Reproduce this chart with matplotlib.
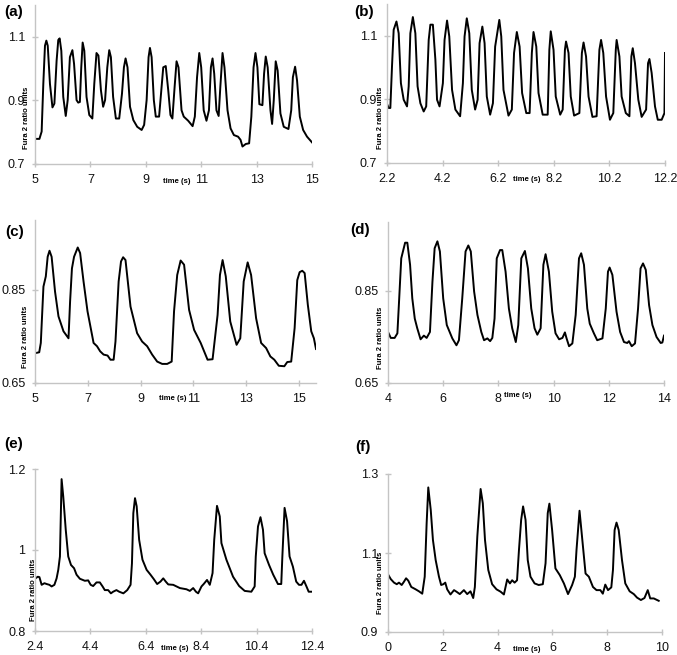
import matplotlib.pyplot as plt
import matplotlib

# Arial-like font for everything
matplotlib.rcParams['font.family'] = ['Liberation Sans', 'DejaVu Sans']

# ---- data: time (s) and Fura 2 ratio ----
t_a = [5.00, 5.16, 5.24, 5.30, 5.36, 5.41, 5.46, 5.54, 5.63, 5.70, 5.78, 5.84, 5.89, 5.95, 6.02,
       6.11, 6.18, 6.26, 6.35, 6.41, 6.50, 6.56, 6.62, 6.67, 6.72, 6.78, 6.86, 6.96, 7.07, 7.14,
       7.22, 7.29, 7.38, 7.46, 7.53, 7.61, 7.68, 7.74, 7.82, 7.92, 8.04, 8.14, 8.21, 8.27, 8.34,
       8.43, 8.55, 8.69, 8.85, 8.94, 9.03, 9.10, 9.15, 9.21, 9.29, 9.36, 9.48, 9.56, 9.63, 9.72,
       9.81, 9.89, 9.96, 10.04, 10.11, 10.18, 10.29, 10.37, 10.53, 10.69, 10.77, 10.85, 10.93, 11.00,
       11.09, 11.19, 11.28, 11.35, 11.41, 11.47, 11.55, 11.63, 11.69, 11.77, 11.84, 11.95, 12.06, 12.18,
       12.33, 12.42, 12.49, 12.61, 12.73, 12.81, 12.89, 12.96, 13.03, 13.10, 13.21, 13.27, 13.33, 13.40,
       13.50, 13.56, 13.62, 13.69, 13.76, 13.86, 13.98, 14.15, 14.25, 14.31, 14.39, 14.46, 14.56, 14.68,
       14.82, 15.00]
f_a = [0.779, 0.779, 0.802, 0.952, 1.072, 1.088, 1.072, 0.952, 0.878, 0.890, 1.025, 1.090, 1.095, 1.056, 0.911,
       0.851, 0.901, 1.036, 1.058, 1.015, 0.901, 0.893, 0.895, 1.004, 1.082, 1.056, 0.911, 0.854, 0.843, 0.952,
       1.049, 1.041, 0.932, 0.880, 0.901, 1.004, 1.058, 1.036, 0.911, 0.843, 0.843, 0.921, 1.004, 1.032, 1.004,
       0.880, 0.838, 0.817, 0.807, 0.823, 0.901, 1.036, 1.065, 1.036, 0.901, 0.849, 0.849, 0.932, 1.004, 1.008,
       0.932, 0.854, 0.843, 0.942, 1.023, 1.004, 0.869, 0.849, 0.836, 0.819, 0.849, 0.973, 1.049, 1.004,
       0.869, 0.836, 0.869, 1.004, 1.032, 0.984, 0.869, 0.851, 0.942, 1.049, 1.004, 0.869, 0.812, 0.791,
       0.786, 0.776, 0.755, 0.763, 0.765, 0.849, 1.004, 1.049, 1.004, 0.888, 0.885, 0.984, 1.038, 1.004,
       0.869, 0.826, 0.901, 1.023, 0.994, 0.859, 0.817, 0.810, 0.869, 0.973, 1.006, 0.963, 0.849, 0.807,
       0.786, 0.768]

t_b = [2.20, 2.26, 2.32, 2.38, 2.44, 2.54, 2.62, 2.70, 2.80, 2.92, 2.98, 3.04, 3.13, 3.22, 3.30,
       3.40, 3.52, 3.61, 3.70, 3.76, 3.85, 3.94, 4.00, 4.09, 4.21, 4.27, 4.36, 4.44, 4.54, 4.66,
       4.83, 4.93, 4.99, 5.07, 5.16, 5.25, 5.37, 5.46, 5.53, 5.63, 5.71, 5.79, 5.91, 6.01, 6.09,
       6.24, 6.31, 6.39, 6.57, 6.69, 6.77, 6.87, 6.97, 7.06, 7.21, 7.33, 7.41, 7.47, 7.57, 7.65,
       7.80, 7.98, 8.04, 8.09, 8.19, 8.27, 8.43, 8.52, 8.60, 8.64, 8.73, 8.81, 8.93, 9.12, 9.21,
       9.27, 9.36, 9.45, 9.59, 9.74, 9.84, 9.90, 9.98, 10.08, 10.22, 10.34, 10.43, 10.46, 10.56, 10.64,
       10.79, 10.92, 10.99, 11.04, 11.12, 11.24, 11.36, 11.52, 11.59, 11.64, 11.72, 11.84, 11.94, 12.08,
       12.18, 12.20]
f_b = [0.886, 0.873, 0.873, 1.004, 1.119, 1.145, 1.108, 0.951, 0.899, 0.878, 0.941, 1.108, 1.159, 1.108, 0.941,
       0.888, 0.862, 0.878, 1.087, 1.135, 1.135, 1.025, 0.899, 0.878, 0.951, 1.087, 1.148, 1.098, 0.930, 0.868,
       0.847, 0.951, 1.098, 1.155, 1.108, 0.930, 0.868, 0.899, 1.077, 1.129, 1.077, 0.909, 0.852, 0.888, 1.066,
       1.150, 1.098, 0.930, 0.849, 0.868, 1.046, 1.112, 1.066, 0.920, 0.857, 0.857, 1.046, 1.112, 1.066, 0.920,
       0.852, 0.852, 1.056, 1.114, 1.056, 0.909, 0.852, 0.868, 1.056, 1.082, 1.046, 0.909, 0.849, 0.857, 1.046,
       1.079, 1.035, 0.909, 0.845, 0.847, 1.056, 1.087, 1.046, 0.909, 0.836, 0.857, 1.056, 1.087, 1.035, 0.909,
       0.857, 0.847, 1.035, 1.061, 1.014, 0.899, 0.845, 0.868, 1.014, 1.027, 0.983, 0.878, 0.836, 0.836,
       0.857, 1.046]

t_c = [5.00, 5.16, 5.22, 5.32, 5.41, 5.48, 5.55, 5.63, 5.76, 5.89, 6.08, 6.27, 6.33, 6.40, 6.48,
       6.62, 6.71, 6.84, 6.99, 7.22, 7.35, 7.47, 7.60, 7.75, 7.86, 7.98, 8.05, 8.17, 8.26, 8.34,
       8.43, 8.62, 8.87, 9.06, 9.25, 9.44, 9.63, 9.82, 10.01, 10.18, 10.27, 10.39, 10.52, 10.65, 10.84,
       11.03, 11.28, 11.54, 11.73, 11.92, 12.01, 12.11, 12.23, 12.40, 12.64, 12.78, 12.91, 13.06, 13.19,
       13.38, 13.57, 13.76, 13.92, 14.07, 14.24, 14.45, 14.56, 14.71, 14.84, 14.94, 15.03, 15.13, 15.22,
       15.34, 15.47, 15.57, 15.65]
f_c = [0.714, 0.716, 0.736, 0.857, 0.879, 0.921, 0.934, 0.921, 0.846, 0.793, 0.761, 0.746, 0.825, 0.896, 0.921,
       0.941, 0.929, 0.868, 0.804, 0.736, 0.729, 0.718, 0.711, 0.709, 0.700, 0.700, 0.739, 0.868, 0.911, 0.920,
       0.914, 0.814, 0.757, 0.739, 0.729, 0.711, 0.696, 0.691, 0.691, 0.696, 0.804, 0.882, 0.913, 0.904, 0.807,
       0.764, 0.736, 0.700, 0.701, 0.796, 0.882, 0.914, 0.879, 0.782, 0.732, 0.746, 0.868, 0.909, 0.882,
       0.789, 0.736, 0.725, 0.707, 0.700, 0.687, 0.686, 0.695, 0.696, 0.768, 0.871, 0.888, 0.891, 0.886,
       0.818, 0.761, 0.746, 0.723]

t_d = [4.00, 4.10, 4.24, 4.34, 4.40, 4.48, 4.62, 4.70, 4.80, 4.88, 4.97, 5.06, 5.18, 5.30, 5.40,
       5.52, 5.61, 5.69, 5.79, 5.88, 6.00, 6.13, 6.33, 6.48, 6.57, 6.69, 6.81, 6.91, 7.00, 7.12,
       7.24, 7.38, 7.48, 7.60, 7.70, 7.78, 7.86, 7.94, 8.06, 8.14, 8.26, 8.38, 8.50, 8.63, 8.72,
       8.83, 8.96, 9.07, 9.19, 9.31, 9.41, 9.53, 9.63, 9.71, 9.83, 9.95, 10.07, 10.20, 10.32, 10.41,
       10.47, 10.56, 10.68, 10.80, 10.92, 11.00, 11.10, 11.22, 11.31, 11.46, 11.58, 11.77, 11.89, 11.97,
       12.03, 12.13, 12.28, 12.41, 12.55, 12.67, 12.73, 12.83, 12.95, 13.06, 13.15, 13.24, 13.34, 13.46,
       13.58, 13.73, 13.88, 13.94, 14.00]
f_d = [0.761, 0.748, 0.748, 0.758, 0.827, 0.921, 0.955, 0.955, 0.907, 0.834, 0.790, 0.769, 0.745, 0.753, 0.748,
       0.761, 0.870, 0.943, 0.958, 0.936, 0.834, 0.776, 0.747, 0.732, 0.743, 0.834, 0.936, 0.949, 0.936, 0.849,
       0.798, 0.761, 0.743, 0.747, 0.741, 0.748, 0.790, 0.921, 0.939, 0.939, 0.892, 0.812, 0.769, 0.739, 0.776,
       0.921, 0.937, 0.899, 0.812, 0.769, 0.755, 0.769, 0.907, 0.930, 0.892, 0.805, 0.758, 0.745, 0.748, 0.760,
       0.747, 0.730, 0.736, 0.798, 0.921, 0.932, 0.907, 0.812, 0.779, 0.758, 0.743, 0.747, 0.812, 0.892,
       0.901, 0.885, 0.805, 0.761, 0.739, 0.737, 0.741, 0.730, 0.736, 0.812, 0.899, 0.910, 0.896, 0.819,
       0.776, 0.750, 0.737, 0.738, 0.753]

t_e = [2.40, 2.50, 2.56, 2.64, 2.74, 2.82, 2.92, 3.00, 3.10, 3.18, 3.24, 3.30, 3.36, 3.42, 3.51,
       3.60, 3.70, 3.81, 3.90, 4.02, 4.20, 4.32, 4.41, 4.50, 4.62, 4.74, 4.84, 4.92, 5.04, 5.14,
       5.22, 5.34, 5.44, 5.59, 5.73, 5.85, 5.90, 5.95, 6.01, 6.07, 6.16, 6.28, 6.43, 6.57, 6.69,
       6.81, 6.93, 7.03, 7.12, 7.21, 7.39, 7.51, 7.63, 7.87, 7.99, 8.11, 8.21, 8.29, 8.41, 8.49,
       8.61, 8.71, 8.81, 8.87, 8.97, 9.07, 9.13, 9.31, 9.55, 9.77, 9.97, 10.21, 10.33, 10.37, 10.45,
       10.54, 10.63, 10.69, 10.85, 11.00, 11.17, 11.29, 11.33, 11.41, 11.50, 11.59, 11.71, 11.83, 11.93,
       12.02, 12.11, 12.20, 12.28, 12.40]
f_e = [0.929, 0.934, 0.933, 0.914, 0.918, 0.916, 0.914, 0.910, 0.914, 0.930, 0.951, 0.984, 1.175, 1.132, 1.050,
       0.984, 0.963, 0.955, 0.939, 0.929, 0.924, 0.925, 0.914, 0.911, 0.920, 0.920, 0.910, 0.901, 0.901, 0.893,
       0.897, 0.901, 0.897, 0.893, 0.901, 0.914, 0.967, 1.091, 1.128, 1.108, 1.025, 0.976, 0.951, 0.939, 0.928,
       0.916, 0.922, 0.930, 0.922, 0.915, 0.914, 0.910, 0.906, 0.903, 0.899, 0.906, 0.897, 0.893, 0.910, 0.916,
       0.926, 0.914, 0.943, 1.025, 1.109, 1.083, 1.017, 0.976, 0.934, 0.911, 0.899, 0.897, 0.910, 0.984, 1.058,
       1.081, 1.050, 0.992, 0.963, 0.939, 0.916, 0.916, 0.984, 1.104, 1.071, 0.984, 0.959, 0.922, 0.914,
       0.914, 0.924, 0.910, 0.897, 0.897]

t_f = [0.00, 0.10, 0.22, 0.32, 0.40, 0.50, 0.58, 0.66, 0.74, 0.85, 1.01, 1.13, 1.25, 1.34, 1.41,
       1.47, 1.56, 1.64, 1.74, 1.86, 1.94, 2.02, 2.09, 2.16, 2.28, 2.41, 2.50, 2.62, 2.77, 2.89,
       3.01, 3.11, 3.17, 3.26, 3.38, 3.46, 3.54, 3.66, 3.80, 3.96, 4.11, 4.23, 4.35, 4.45, 4.53,
       4.62, 4.71, 4.78, 4.86, 4.93, 5.02, 5.10, 5.20, 5.35, 5.50, 5.65, 5.75, 5.83, 5.89, 5.99,
       6.11, 6.27, 6.42, 6.57, 6.72, 6.82, 6.88, 6.99, 7.08, 7.21, 7.33, 7.48, 7.61, 7.75, 7.84,
       7.93, 8.03, 8.15, 8.21, 8.27, 8.34, 8.42, 8.54, 8.66, 8.82, 8.97, 9.09, 9.23, 9.36, 9.48,
       9.57, 9.70, 9.88]
f_f = [1.046, 1.034, 1.025, 1.021, 1.025, 1.019, 1.027, 1.036, 1.030, 1.014, 1.008, 1.003, 0.997, 1.040, 1.175,
       1.266, 1.209, 1.133, 1.082, 1.040, 1.019, 1.021, 1.025, 1.008, 0.995, 1.006, 1.002, 0.996, 1.006, 0.996,
       1.003, 0.986, 1.014, 1.142, 1.262, 1.226, 1.133, 1.057, 1.021, 1.008, 1.002, 0.995, 1.033, 1.023, 1.031,
       1.025, 1.031, 1.108, 1.184, 1.218, 1.184, 1.082, 1.040, 1.023, 1.019, 1.021, 1.074, 1.201, 1.225, 1.158,
       1.061, 1.044, 1.023, 0.996, 1.019, 1.040, 1.108, 1.207, 1.142, 1.048, 1.040, 1.014, 1.006, 1.006, 0.997,
       1.020, 1.006, 1.013, 1.057, 1.158, 1.177, 1.158, 1.082, 1.023, 1.003, 0.996, 0.987, 0.981, 0.986, 1.006,
       0.985, 0.985, 0.979]

# axis ranges and ticks for each panel
panel_names = ['(a)', '(b)', '(c)', '(d)', '(e)', '(f)']
xlims = [(5, 15), (2.2, 12.2), (5, 15.65), (4, 14), (2.4, 12.4), (0, 10)]
ylims = [(0.7, 1.2), (0.7, 1.2), (0.65, 1.0), (0.65, 1.0), (0.8, 1.2), (0.9, 1.3)]
xticks = [[5, 7, 9, 11, 13, 15],
          [2.2, 4.2, 6.2, 8.2, 10.2, 12.2],
          [5, 7, 9, 11, 13, 15],
          [4, 6, 8, 10, 12, 14],
          [2.4, 4.4, 6.4, 8.4, 10.4, 12.4],
          [0, 2, 4, 6, 8, 10]]
xticklabels = [['5', '7', '9', '11', '13', '15'],
               ['2.2', '4.2', '6.2', '8.2', '10.2', '12.2'],
               ['5', '7', '9', '11', '13', '15'],
               ['4', '6', '8', '10', '12', '14'],
               ['2.4', '4.4', '6.4', '8.4', '10.4', '12.4'],
               ['0', '2', '4', '6', '8', '10']]
yticks = [[0.7, 0.9, 1.1], [0.7, 0.9, 1.1], [0.65, 0.85], [0.65, 0.85], [0.8, 1.0, 1.2], [0.9, 1.1, 1.3]]
yticklabels = [['0.7', '0.9', '1.1'], ['0.7', '0.9', '1.1'], ['0.65', '0.85'], ['0.65', '0.85'],
               ['0.8', '1', '1.2'], ['0.9', '1.1', '1.3']]
times = [t_a, t_b, t_c, t_d, t_e, t_f]
ratios = [f_a, f_b, f_c, f_d, f_e, f_f]

# layout in pixels (left, top, right, bottom) of each plot area
W, H = 677, 655
boxes = [(35, 5, 312, 164), (387, 4, 665, 163),
         (35, 220, 316, 383), (388, 222, 664, 383),
         (35, 469, 312, 631), (388, 474, 662, 632)]
# panel letter positions (px) and label positions (axes fraction)
letter_pos = [(4, 12), (354, 12), (5, 232), (350, 230), (4, 444), (355, 447)]
ylab_pos = [(-0.029, 0.29), (-0.025, 0.285), (-0.034, 0.285), (-0.028, 0.28), (-0.007, 0.255), (-0.028, 0.31)]
xlab_pos = [(0.511, -0.11), (0.504, -0.106), (0.49, -0.098), (0.47, -0.077), (0.503, -0.105), (0.508, -0.11)]

axis_grey = '#c4c4c4'

fig = plt.figure(figsize=(W / 100, H / 100), dpi=100)

for i in range(6):
    l, t, r, b = boxes[i]
    ax = fig.add_axes([l / W, 1 - b / H, (r - l) / W, (b - t) / H])
    ax.plot(times[i], ratios[i], color='black', linewidth=1.4)

    ax.set_xlim(*xlims[i])
    ax.set_ylim(*ylims[i])
    ax.set_xticks(xticks[i])
    ax.set_xticklabels(xticklabels[i])
    ax.set_yticks(yticks[i])
    ax.set_yticklabels(yticklabels[i])

    for side in ['top', 'right']:
        ax.spines[side].set_visible(False)
    for side in ['left', 'bottom']:
        ax.spines[side].set_color(axis_grey)
        ax.spines[side].set_linewidth(1.0)
    ax.tick_params(direction='inout', length=4, width=1.0, color=axis_grey,
                   labelsize=9, labelcolor='#111111', pad=5)

    ax.text(ylab_pos[i][0], ylab_pos[i][1], 'Fura 2 ratio units', transform=ax.transAxes,
            rotation=90, ha='center', va='center', fontsize=5.5, fontweight='bold')
    ax.text(xlab_pos[i][0], xlab_pos[i][1], 'time (s)', transform=ax.transAxes,
            ha='center', va='center', fontsize=5.5, fontweight='bold')

    fig.text(letter_pos[i][0] / W, 1 - letter_pos[i][1] / H, panel_names[i],
             ha='left', va='center', fontsize=11, fontweight='bold')

fig.savefig('out.png', dpi=100)
